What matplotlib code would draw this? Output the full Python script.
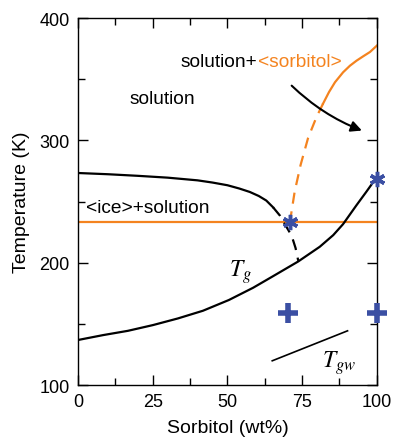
import numpy as np
import matplotlib
matplotlib.use('Agg')
from matplotlib import pyplot as plt
from matplotlib.ticker import MultipleLocator

plt.rcParams['font.family'] = ['Liberation Sans', 'DejaVu Sans']
plt.rcParams['mathtext.fontset'] = 'stix'

ORANGE = '#f4831f'
BLUE = '#3b4fa3'

# ice liquidus (solid part, then dashed extension through the eutectic)
ice_x = [0, 10, 20, 30, 40, 45, 50, 54, 57.5, 60.5, 63, 65.3]
ice_T = [273.3, 272.3, 271, 269.5, 267.3, 265.5, 263.3, 260.6, 257.8, 254.5,
         250.8, 245.2]
ice_dash_x = [65.3, 67.6, 69.2, 71.5, 72.8, 73.7]
ice_dash_T = [245.2, 238.4, 231.6, 222, 212, 201.6]

# glass transition curve
tg_x = [0, 8.4, 16.7, 25.1, 33.4, 41.8, 50.5, 58.6, 65.3, 73.7, 80.9,
        85.4, 88.7, 93.2, 96.5, 100]
tg_T = [136.8, 140.8, 144.3, 149, 154.4, 160.7, 169.5, 179.5, 189, 201,
        213, 222.5, 231.5, 247, 258, 270]

# sorbitol solubility
sorb_dash_x = [70.9, 72.5, 74.5, 77, 79.8, 82]
sorb_dash_T = [233, 258, 280, 302, 319, 330]
sorb_x = [82, 84, 86, 88.7, 91, 93.2, 95.5, 97.7, 100]
sorb_T = [330, 339.5, 347.5, 355.6, 361, 365.1, 368.8, 372.2, 377.4]

eutectic_T = 233.3

# Tgw guide line
tgw_x = [65, 90.2]
tgw_T = [119.8, 144.3]

# measured points
star_x = [70.9, 100]
star_T = [233, 268]
plus_x = [70.2, 100]
plus_T = [159, 159]

fig = plt.figure(figsize=(3.95, 4.39), dpi=100)
ax = fig.add_axes([0.1975, 0.1207, 0.7565, 0.836])

ax.axhline(eutectic_T, color=ORANGE, lw=1.6, zorder=2)
ax.plot(ice_x, ice_T, color='k', lw=1.6)
ax.plot(ice_dash_x, ice_dash_T, color='k', lw=1.6, dashes=(5, 3.5))
ax.plot(tg_x, tg_T, color='k', lw=1.6)
ax.plot(sorb_dash_x, sorb_dash_T, color=ORANGE, lw=1.6, dashes=(5, 3.5))
ax.plot(sorb_x, sorb_T, color=ORANGE, lw=1.6)
ax.plot(tgw_x, tgw_T, color='k', lw=1.2)

ax.plot(star_x, star_T, ls='none', marker=(6, 2, 0), ms=11, mew=2.5, color=BLUE,
        clip_on=False, zorder=5)
ax.plot(plus_x, plus_T, ls='none', marker='+', ms=15, mew=4, color=BLUE,
        clip_on=False, zorder=5)

ax.annotate('', xy=(95, 308), xytext=(71.5, 344.7),
            arrowprops=dict(arrowstyle='-|>', connectionstyle='arc3,rad=0.1',
                            color='k', lw=1.5, mutation_scale=16,
                            shrinkA=0, shrinkB=0))

t1 = ax.text(34.4, 364.8, 'solution+', fontsize=13.8, va='center', ha='left')
ax.annotate('<sorbitol>', xy=(1, 0), xycoords=t1, va='bottom', ha='left',
            fontsize=13.8, color=ORANGE)
ax.text(17.4, 333.8, 'solution', fontsize=13.8, va='center', ha='left')
ax.text(2.7, 245.5, '<ice>+solution', fontsize=13.8, va='center', ha='left')
ax.text(50.5, 189, r'$T_g$', fontsize=17, va='baseline', ha='left')
ax.text(81.8, 114.6, r'$T_{gw}$', fontsize=17, va='baseline', ha='left')

ax.set_xlim(0, 100)
ax.set_ylim(100, 400)
ax.xaxis.set_major_locator(MultipleLocator(25))
ax.xaxis.set_minor_locator(MultipleLocator(12.5))
ax.yaxis.set_major_locator(MultipleLocator(100))
ax.yaxis.set_minor_locator(MultipleLocator(50))
ax.tick_params(which='both', direction='in', top=True, right=True,
               labelsize=13, width=1)
ax.tick_params(which='major', length=7, pad=6)
ax.tick_params(which='minor', length=5)
for s in ax.spines.values():
    s.set_linewidth(1)

ax.set_xlabel('Sorbitol (wt%)', fontsize=14, labelpad=6)
ax.set_ylabel('Temperature (K)', fontsize=14, labelpad=7)

fig.savefig('out.png', dpi=100)
